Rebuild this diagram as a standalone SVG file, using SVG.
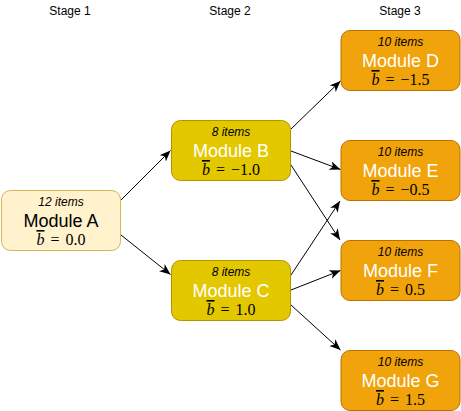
<svg xmlns="http://www.w3.org/2000/svg" width="461" height="411" viewBox="0 0 461 411">
<style>
.stage{font-family:"Liberation Sans",Arial,sans-serif;font-size:12px;fill:#000;text-anchor:middle}
.items{font-family:"Liberation Sans",Arial,sans-serif;font-size:12px;font-style:italic;text-anchor:middle}
.title{font-family:"Liberation Sans",Arial,sans-serif;font-size:18px;text-anchor:middle}
.math{font-family:"Liberation Serif","Times New Roman",serif;font-size:16px;word-spacing:2px;text-anchor:middle}
.math .v{font-style:italic;text-decoration:overline}
.a rect{fill:#fff2cc;stroke:#d6b656}
.y rect{fill:#e3c800;stroke:#b09500}
.o rect{fill:#f0a30a;stroke:#bd7000}
.a text{fill:#000}
.y .title,.o .title{fill:#fff}
.y .items,.o .items,.y .math,.o .math{fill:#000}
.edge{stroke:#000;stroke-width:1;fill:none;marker-end:url(#arr)}
</style>
<defs>
<marker id="arr" markerUnits="userSpaceOnUse" markerWidth="13" markerHeight="10" refX="11" refY="4.5" orient="auto">
<path d="M0,0 L11,4.5 L0,9 L3,4.5 z" fill="#000"/>
</marker>
</defs>
<rect width="461" height="411" fill="#fff"/>
<g id="stages">
<text class="stage" x="70" y="15">Stage 1</text>
<text class="stage" x="230" y="15">Stage 2</text>
<text class="stage" x="400" y="15">Stage 3</text>
</g>
<g id="connectors">
<line class="edge" x1="121" y1="200" x2="170.5" y2="150.5"/>
<line class="edge" x1="121" y1="235" x2="170.5" y2="274.5"/>
<line class="edge" x1="291" y1="129" x2="340.5" y2="81"/>
<line class="edge" x1="291" y1="151" x2="340.5" y2="169.5"/>
<line class="edge" x1="291" y1="165" x2="340" y2="240"/>
<line class="edge" x1="291" y1="275" x2="340" y2="201"/>
<line class="edge" x1="291" y1="290" x2="340.5" y2="270.5"/>
<line class="edge" x1="291" y1="305" x2="340.5" y2="350"/>
</g>
<g id="moduleA" class="a">
<rect x="1.5" y="190.5" width="119" height="60" rx="9"/>
<text class="items" x="61" y="206">12 items</text>
<text class="title" x="61" y="226.5">Module A</text>
<text class="math" x="61" y="245"><tspan class="v">b</tspan> = 0.0</text>
</g>
<g id="moduleB" class="y">
<rect x="171.5" y="120.5" width="119" height="60" rx="9"/>
<text class="items" x="231" y="136">8 items</text>
<text class="title" x="231" y="156.5">Module B</text>
<text class="math" x="231" y="175"><tspan class="v">b</tspan> = −1.0</text>
</g>
<g id="moduleC" class="y">
<rect x="171.5" y="260.5" width="119" height="60" rx="9"/>
<text class="items" x="231" y="276">8 items</text>
<text class="title" x="231" y="296.5">Module C</text>
<text class="math" x="231" y="315"><tspan class="v">b</tspan> = 1.0</text>
</g>
<g id="moduleD" class="o">
<rect x="341" y="30.5" width="119" height="60" rx="9"/>
<text class="items" x="400.5" y="46">10 items</text>
<text class="title" x="400.5" y="66.5">Module D</text>
<text class="math" x="400.5" y="85"><tspan class="v">b</tspan> = −1.5</text>
</g>
<g id="moduleE" class="o">
<rect x="341" y="140.5" width="119" height="60" rx="9"/>
<text class="items" x="400.5" y="156">10 items</text>
<text class="title" x="400.5" y="176.5">Module E</text>
<text class="math" x="400.5" y="195"><tspan class="v">b</tspan> = −0.5</text>
</g>
<g id="moduleF" class="o">
<rect x="341" y="240.5" width="119" height="60" rx="9"/>
<text class="items" x="400.5" y="256">10 items</text>
<text class="title" x="400.5" y="276.5">Module F</text>
<text class="math" x="400.5" y="295"><tspan class="v">b</tspan> = 0.5</text>
</g>
<g id="moduleG" class="o">
<rect x="341" y="350.5" width="119" height="60" rx="9"/>
<text class="items" x="400.5" y="366">10 items</text>
<text class="title" x="400.5" y="386.5">Module G</text>
<text class="math" x="400.5" y="405"><tspan class="v">b</tspan> = 1.5</text>
</g>
</svg>
